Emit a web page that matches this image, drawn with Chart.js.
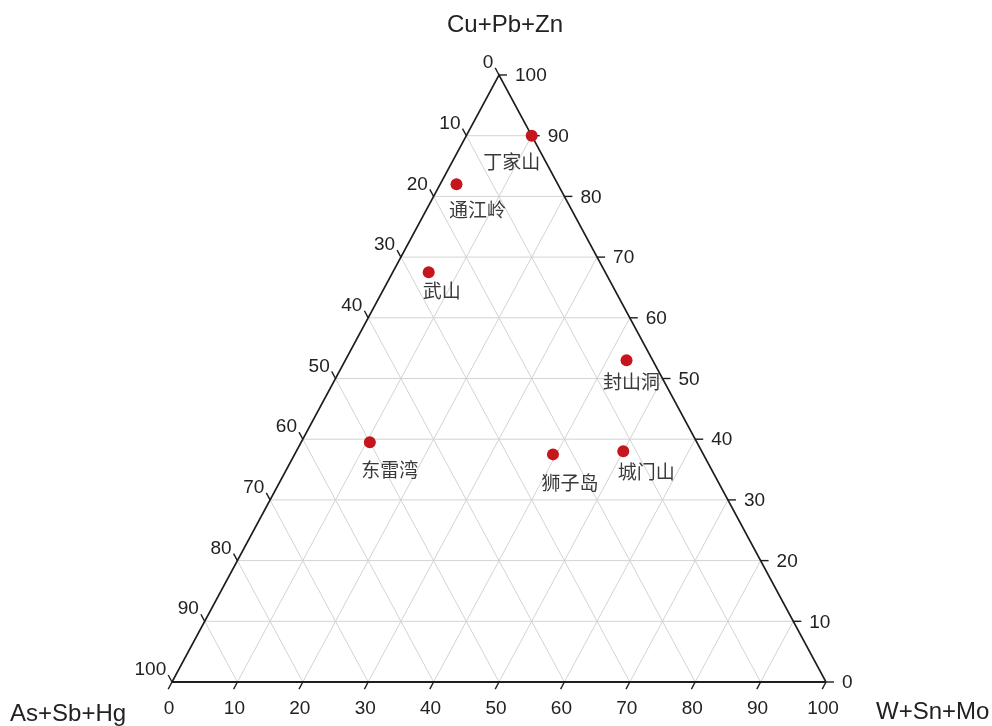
<!DOCTYPE html>
<html>
<head>
<meta charset="utf-8">
<script src="https://cdn.jsdelivr.net/npm/chart.js@4"></script>
<style>
  html, body { margin: 0; padding: 0; background: #ffffff; }
  #wrap { width: 992px; height: 726px; }
</style>
</head>
<body>
<div id="wrap"><canvas id="c" width="992" height="726"></canvas></div>
<script>
// Deposit names and their composition (percent of each component group)
const deposits = ['丁家山', '通江岭', '武山', '封山洞', '东雷湾', '狮子岛', '城门山'];
const cuPbZn   = [90, 82, 67.5, 53, 39.5, 37.5, 38];
const wSnMo    = [10, 2.5, 5.5, 43, 10.5, 39.5, 50];
const asSbHg   = [0, 15.5, 27, 4, 50, 23, 12];

// Axis tick labels
const tickValues = [0, 10, 20, 30, 40, 50, 60, 70, 80, 90, 100];

// Component titles at the corners
const titleTop = 'Cu+Pb+Zn';
const titleLeft = 'As+Sb+Hg';
const titleRight = 'W+Sn+Mo';

// Label placement relative to each marker (pixels)
const labelShift = [[-20, 26], [21, 26], [13, 19], [5, 21], [20, 28], [17, 28], [23, 20]];

const NUM_FONT = '19px "Liberation Sans", Arial, sans-serif';
const TITLE_FONT = '24px "Liberation Sans", Arial, sans-serif';
const CJK_FONT = '19px "Noto Sans CJK SC", sans-serif';

// Ternary → cartesian (x across base, y = height measured as Cu+Pb+Zn)
function toXY(w, cu) { return { x: w + cu / 2, y: cu }; }

const points = deposits.map((name, i) => toXY(wSnMo[i], cuPbZn[i]));

const ternaryFrame = {
  id: 'ternaryFrame',
  beforeDatasetsDraw(chart) {
    const ctx = chart.ctx;
    const sx = chart.scales.x, sy = chart.scales.y;
    const P = (w, cu) => { const q = toXY(w, cu); return [sx.getPixelForValue(q.x), sy.getPixelForValue(q.y)]; };

    ctx.save();
    // light grid
    ctx.strokeStyle = '#d3d3d3';
    ctx.lineWidth = 1;
    for (const v of tickValues) {
      if (v === 0 || v === 100) continue;
      // constant Cu+Pb+Zn (horizontal)
      let a = P(0, v), b = P(100 - v, v);
      ctx.beginPath(); ctx.moveTo(a[0], a[1]); ctx.lineTo(b[0], b[1]); ctx.stroke();
      // constant W+Sn+Mo
      a = P(v, 0); b = P(v, 100 - v);
      ctx.beginPath(); ctx.moveTo(a[0], a[1]); ctx.lineTo(b[0], b[1]); ctx.stroke();
      // constant As+Sb+Hg
      a = P(100 - v, 0); b = P(0, 100 - v);
      ctx.beginPath(); ctx.moveTo(a[0], a[1]); ctx.lineTo(b[0], b[1]); ctx.stroke();
    }

    const top = P(0, 100), bl = P(0, 0), br = P(100, 0);
    // outline
    ctx.strokeStyle = '#1e1e1e';
    ctx.lineWidth = 1.6;
    ctx.beginPath(); ctx.moveTo(bl[0], bl[1]); ctx.lineTo(top[0], top[1]); ctx.lineTo(br[0], br[1]); ctx.stroke();
    ctx.lineWidth = 2.2;
    ctx.beginPath(); ctx.moveTo(bl[0], bl[1]); ctx.lineTo(br[0], br[1]); ctx.stroke();

    // tick directions
    const unit = (dx, dy) => { const L = Math.hypot(dx, dy); return [dx / L, dy / L]; };
    const dLeft = unit(bl[0] - top[0], bl[1] - top[1]);      // down-left, for base ticks
    const dUp = unit(top[0] - br[0], top[1] - br[1]);         // up-left, for left-side ticks
    const TL = 8;

    ctx.lineWidth = 1.4;
    ctx.fillStyle = '#222';
    ctx.font = NUM_FONT;
    for (const v of tickValues) {
      // base: W+Sn+Mo
      let p = P(v, 0);
      let e = [p[0] + dLeft[0] * TL, p[1] + dLeft[1] * TL];
      ctx.beginPath(); ctx.moveTo(p[0], p[1]); ctx.lineTo(e[0], e[1]); ctx.stroke();
      ctx.textAlign = 'center'; ctx.textBaseline = 'middle';
      ctx.fillText(String(v), p[0] - 3, p[1] + 27);

      // left side: As+Sb+Hg
      p = P(0, 100 - v);
      e = [p[0] + dUp[0] * TL, p[1] + dUp[1] * TL];
      ctx.beginPath(); ctx.moveTo(p[0], p[1]); ctx.lineTo(e[0], e[1]); ctx.stroke();
      ctx.textAlign = 'right'; ctx.textBaseline = 'middle';
      ctx.fillText(String(v), e[0] - 2, e[1] - 5);

      // right side: Cu+Pb+Zn
      p = P(100 - v, v);
      e = [p[0] + TL, p[1]];
      ctx.beginPath(); ctx.moveTo(p[0], p[1]); ctx.lineTo(e[0], e[1]); ctx.stroke();
      ctx.textAlign = 'left'; ctx.textBaseline = 'middle';
      ctx.fillText(String(v), e[0] + 8, p[1] + 1);
    }

    // corner titles
    ctx.font = TITLE_FONT;
    ctx.fillStyle = '#222';
    ctx.textBaseline = 'middle';
    ctx.textAlign = 'center';
    ctx.fillText(titleTop, top[0] + 6, 25);
    ctx.textAlign = 'left';
    ctx.fillText(titleLeft, 10, bl[1] + 32);
    ctx.fillText(titleRight, 876, br[1] + 30);
    ctx.restore();
  },
  afterDatasetsDraw(chart) {
    const ctx = chart.ctx;
    const meta = chart.getDatasetMeta(0);
    ctx.save();
    ctx.font = CJK_FONT;
    ctx.fillStyle = '#3a3a3a';
    ctx.textAlign = 'center';
    ctx.textBaseline = 'middle';
    meta.data.forEach((el, i) => {
      ctx.fillText(deposits[i], el.x + labelShift[i][0], el.y + labelShift[i][1]);
    });
    ctx.restore();
  }
};

new Chart(document.getElementById('c'), {
  type: 'scatter',
  data: {
    datasets: [{
      label: 'deposits',
      data: points,
      pointRadius: 6,
      pointHoverRadius: 6,
      pointBackgroundColor: '#c4161c',
      pointBorderColor: '#c4161c',
      pointBorderWidth: 0,
      clip: false
    }]
  },
  options: {
    responsive: false,
    devicePixelRatio: 1,
    animation: false,
    layout: { padding: { left: 172, right: 166, top: 75, bottom: 44 } },
    scales: {
      x: { type: 'linear', min: 0, max: 100, display: false },
      y: { type: 'linear', min: 0, max: 100, display: false }
    },
    plugins: { legend: { display: false }, tooltip: { enabled: false } }
  },
  plugins: [ternaryFrame]
});
</script>
</body>
</html>
